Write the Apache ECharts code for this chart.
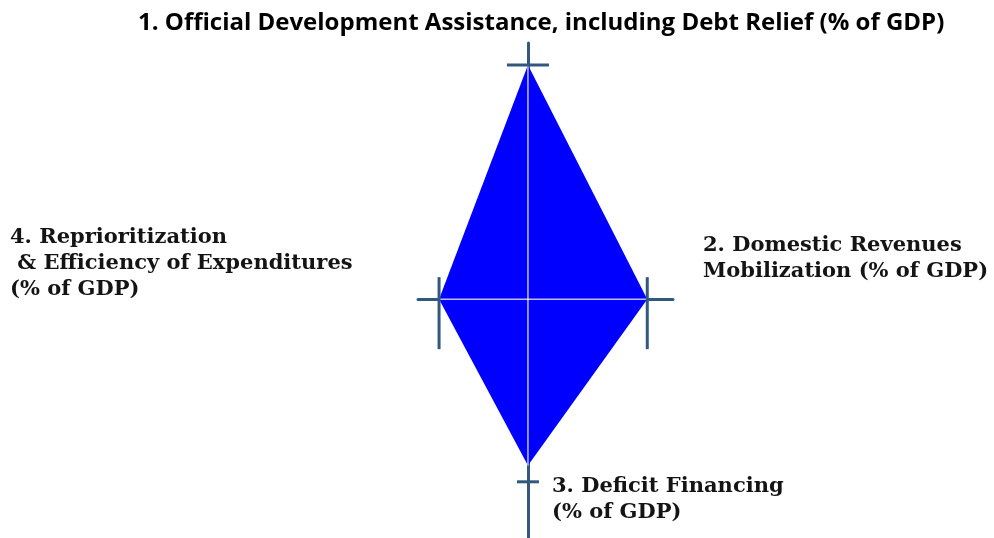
<!DOCTYPE html>
<html>
<head>
<meta charset="utf-8">
<script src="https://cdn.jsdelivr.net/npm/echarts@6/dist/echarts.min.js"></script>
<style>
html,body{margin:0;padding:0;background:#fff;}
#main{width:994px;height:538px;}
</style>
</head>
<body>
<div id="main"></div>
<script>
// axis names, clockwise from the top
var axisNames = [
	'1. Official Development Assistance, including Debt Relief (% of GDP)',
	'2. Domestic Revenues\nMobilization (% of GDP)',
	'3. Deficit Financing\n(% of GDP)',
	'4. Reprioritization\n & Efficiency of Expenditures\n(% of GDP)'
];
// values on each axis: top, right, bottom, left
var vertexValues = [10, 5.1, 7.1, 3.8];
// cross marks on each axis
var tickValues = [10, 5.1, 7.8, 3.8];

var axisColor = '#31587f';

var dom = document.getElementById('main');
var myChart = echarts.init(dom);

// diamond corners in axis coordinates
var corners = [
	[0, vertexValues[0]],
	[vertexValues[1], 0],
	[0, -vertexValues[2]],
	[-vertexValues[3], 0]
];

// tick marks: [x, y, kind]
var ticks = [
	[0, tickValues[0], 'h'],
	[tickValues[1], 0, 'v'],
	[0, -tickValues[2], 'hs'],
	[-tickValues[3], 0, 'v']
];

function renderDiamond(params, api) {
	var pts = corners.map(function (c) { return api.coord(c); });
	return {
		type: 'group',
		children: [
			{
				type: 'polygon',
				shape: { points: pts },
				style: { fill: '#0000ff', stroke: null }
			},
			{
				type: 'line',
				shape: { x1: pts[0][0], y1: pts[0][1], x2: pts[2][0], y2: pts[2][1] },
				style: { stroke: 'rgba(255,255,255,0.75)', lineWidth: 1.5 }
			},
			{
				type: 'line',
				shape: { x1: pts[3][0], y1: pts[3][1], x2: pts[1][0], y2: pts[1][1] },
				style: { stroke: 'rgba(255,255,255,0.75)', lineWidth: 1.5 }
			}
		]
	};
}

function renderTick(params, api) {
	var p = api.coord([api.value(0), api.value(1)]);
	var kind = ticks[params.dataIndex][2];
	var shape;
	if (kind == 'h') {
		shape = { x1: p[0] - 21, y1: p[1], x2: p[0] + 21, y2: p[1] };
	} else if (kind == 'hs') {
		shape = { x1: p[0] - 11, y1: p[1], x2: p[0] + 11, y2: p[1] };
	} else {
		shape = { x1: p[0], y1: p[1] - 22, x2: p[0], y2: p[1] + 50 };
	}
	return {
		type: 'line',
		shape: shape,
		style: { stroke: axisColor, lineWidth: 3 }
	};
}

var labelStyle = {
	fontFamily: 'DejaVu Serif',
	fontWeight: 'bold',
	fontSize: 21,
	lineHeight: 26,
	fill: '#141414'
};

var option = {
	animation: false,
	title: {
		text: axisNames[0],
		left: 133,
		top: 6,
		textStyle: {
			fontFamily: 'Open Sans',
			fontWeight: 'bold',
			fontSize: 24,
			color: '#000'
		}
	},
	grid: { left: 418, right: 321, top: 43, bottom: 0 },
	xAxis: {
		type: 'value',
		min: -4.7,
		max: 6.2,
		axisLine: { show: true, lineStyle: { color: axisColor, width: 3 } },
		axisTick: { show: false },
		axisLabel: { show: false },
		splitLine: { show: false }
	},
	yAxis: {
		type: 'value',
		min: -10.2,
		max: 10.94,
		axisLine: { show: true, lineStyle: { color: axisColor, width: 3 } },
		axisTick: { show: false },
		axisLabel: { show: false },
		splitLine: { show: false }
	},
	graphic: [
		{ type: 'text', left: 10, top: 225, style: Object.assign({ text: axisNames[3] }, labelStyle) },
		{ type: 'text', left: 703, top: 233, style: Object.assign({ text: axisNames[1] }, labelStyle) },
		{ type: 'text', left: 552, top: 474, style: Object.assign({ text: axisNames[2] }, labelStyle) }
	],
	series: [
		{
			type: 'custom',
			renderItem: renderDiamond,
			data: [[0, 0]],
			z: 2
		},
		{
			type: 'custom',
			renderItem: renderTick,
			data: ticks.map(function (t) { return [t[0], t[1]]; }),
			z: 3
		}
	]
};

if (option && typeof option === "object") {
	myChart.setOption(option, true);
}
</script>
</body>
</html>
